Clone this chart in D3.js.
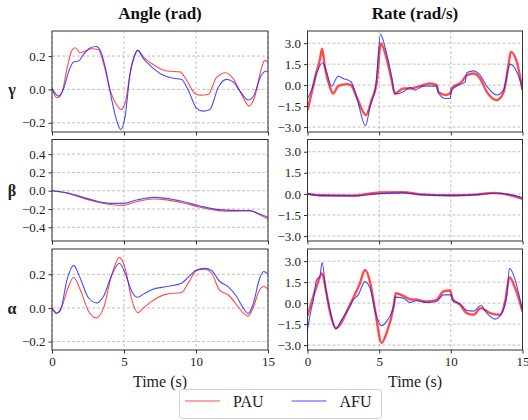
<!DOCTYPE html>
<html>
<head>
<meta charset="utf-8">
<script src="https://cdn.jsdelivr.net/npm/d3@7"></script>
<style>
  body { margin: 0; background: #fff; }
</style>
</head>
<body>
<div id="chart"></div>
<script>
// ---- data: [time (s), value] ----
const angGammaPAU = [[0,0.005],[0.35,-0.05],[0.7,-0.015],[1.04,0.125],[1.38,0.234],[1.6,0.25],[1.96,0.22],[2.3,0.23],[2.77,0.244],[3.23,0.238],[3.58,0.155],[4.04,-0.004],[4.5,-0.093],[4.78,-0.12],[5.08,-0.083],[5.42,0.095],[5.7,0.194],[5.95,0.234],[6.35,0.194],[6.92,0.155],[7.5,0.125],[7.96,0.11],[8.89,0.105],[9.35,0.055],[9.92,-0.024],[10.27,-0.034],[10.85,-0.03],[11.42,0.071],[12.07,0.1],[12.58,0.065],[13.15,-0.028],[13.69,-0.1],[14.08,-0.044],[14.54,0.125],[14.77,0.174],[15,0.164]];
const angGammaAFU = [[0,0.005],[0.46,-0.04],[0.81,0.006],[1.15,0.105],[1.5,0.164],[1.85,0.17],[2.19,0.21],[2.65,0.248],[3.07,0.257],[3.35,0.234],[3.69,0.135],[4.15,-0.063],[4.5,-0.19],[4.78,-0.24],[5.08,-0.16],[5.42,0.095],[5.7,0.194],[5.95,0.234],[6.35,0.184],[6.92,0.135],[7.5,0.095],[8.19,0.071],[9,0.06],[9.46,-0.004],[10.04,-0.113],[10.5,-0.13],[10.96,-0.12],[11.54,0.012],[12.12,0.06],[12.58,0.045],[13.04,-0.008],[13.62,-0.063],[13.96,-0.044],[14.54,0.085],[14.89,0.11],[15,0.105]];
const angBetaPAU = [[0,0],[1.04,-0.027],[2.42,-0.095],[4.04,-0.15],[4.96,-0.16],[5.88,-0.12],[7.04,-0.09],[7.96,-0.1],[9.12,-0.135],[10.27,-0.18],[11.42,-0.215],[12.58,-0.225],[13.73,-0.22],[14.42,-0.262],[15,-0.31]];
const angBetaAFU = [[0,0],[1.04,-0.022],[2.42,-0.084],[4.04,-0.138],[4.96,-0.138],[5.88,-0.102],[7.04,-0.073],[7.96,-0.084],[9.12,-0.12],[10.27,-0.167],[11.42,-0.204],[12.58,-0.215],[13.73,-0.218],[14.42,-0.255],[15,-0.29]];
const angAlphaPAU = [[0,0],[0.35,-0.03],[0.69,0.01],[1.15,0.127],[1.5,0.182],[1.96,0.108],[2.54,-0.02],[3.07,-0.059],[3.58,0],[4.15,0.196],[4.68,0.3],[5.08,0.235],[5.54,0.049],[5.95,-0.029],[6.35,0],[6.92,0.039],[7.96,0.082],[9,0.092],[9.46,0.147],[10.04,0.222],[10.62,0.23],[11.08,0.206],[11.65,0.104],[12.23,0.078],[12.81,0.02],[13.27,-0.029],[13.62,-0.049],[13.96,0],[14.42,0.108],[14.7,0.127],[15,0.112]];
const angAlphaAFU = [[0,0],[0.3,-0.033],[0.58,-0.016],[1.04,0.167],[1.5,0.253],[1.96,0.176],[2.54,0.059],[3.12,0.03],[3.58,0.069],[4.15,0.196],[4.68,0.265],[5.08,0.206],[5.54,0.098],[5.95,0.063],[6.35,0.082],[6.92,0.108],[7.96,0.127],[9,0.147],[9.46,0.182],[10.04,0.225],[10.62,0.235],[11.08,0.222],[11.65,0.157],[12.23,0.127],[12.81,0.069],[13.27,0],[13.62,-0.033],[13.96,0.02],[14.42,0.176],[14.7,0.216],[15,0.2]];

const rateGammaPAU = [[0,-1.8],[0.28,-0.6],[0.63,0.95],[0.86,1.79],[1.02,2.6],[1.21,1.3],[1.56,-0.12],[1.79,-0.6],[2.14,-0.07],[2.73,0.07],[3.03,0],[3.42,-0.83],[4.08,-2.14],[4.47,-1.07],[4.82,0.12],[5.12,2.98],[5.52,1.9],[5.87,0.36],[6.1,-0.6],[6.69,-0.24],[7.15,-0.24],[7.85,-0.07],[8.55,0.12],[9.01,0],[9.13,-0.48],[9.6,-0.71],[9.95,-0.6],[10.06,-0.24],[10.76,0.24],[11.11,0.71],[11.58,0.83],[12.04,0.48],[12.51,-0.48],[13.21,-1.07],[13.67,-0.55],[14.02,1.43],[14.18,2.38],[14.6,1.67],[15,-0.36]];
const rateGammaAFU = [[0,-0.95],[0.28,-0.36],[0.63,0.83],[1.05,1.6],[1.33,0.95],[1.68,-0.07],[2.14,0.64],[2.49,0.48],[3.03,0.24],[3.42,-0.83],[4.05,-2.9],[4.36,-1.55],[4.78,0.12],[5.1,3.64],[5.4,2.74],[5.87,0.6],[6.1,-0.64],[6.69,-0.48],[7.15,-0.17],[7.5,-0.36],[8.08,-0.07],[9.01,-0.07],[9.13,-0.55],[9.6,-0.95],[9.95,-0.95],[10.06,-0.36],[10.41,-0.07],[11,0.24],[11.11,0.88],[11.58,1.02],[12.04,0.71],[12.51,-0.07],[13.21,-0.71],[13.67,-0.36],[14.14,1.5],[14.6,0.95],[15,-0.24]];
const rateBetaPAU = [[0,0],[0.86,-0.1],[3.19,-0.12],[5.05,0.1],[6.69,0.12],[7.85,-0.03],[10.06,-0.1],[11.81,-0.05],[12.97,0.07],[14.14,-0.1],[15,-0.35]];
const rateBetaAFU = [[0,0],[0.86,-0.12],[3.19,-0.14],[5.05,0.02],[6.69,0.07],[7.85,-0.05],[10.06,-0.12],[11.81,-0.05],[12.97,0.05],[14.14,-0.05],[15,-0.26]];
const rateAlphaPAU = [[0,-0.9],[0.4,0.47],[0.63,1.18],[1.02,2.13],[1.28,0.95],[1.56,-0.59],[1.98,-1.78],[2.96,-0.12],[3.19,0.36],[3.66,1.42],[4.01,2.37],[4.36,1.54],[4.71,-0.47],[5.17,-2.84],[5.52,-2.13],[6.03,-0.12],[6.15,0.71],[6.69,0.52],[7.15,0.28],[7.62,0.24],[8.32,0.12],[9.01,0.24],[9.48,0.83],[9.95,0.9],[10.13,0.28],[10.65,-0.12],[11.11,-0.71],[11.58,-0.83],[12.09,-0.36],[12.74,-0.71],[13.44,-0.83],[13.79,0.12],[14.09,1.85],[14.49,1.07],[15,-0.59]];
const rateAlphaAFU = [[0,-1.9],[0.16,-0.95],[0.4,0.24],[0.63,1.66],[0.86,1.9],[1.02,2.9],[1.28,0.95],[1.56,-0.47],[1.98,-1.85],[2.38,-1.18],[2.96,-0.24],[3.19,0.24],[3.54,0.59],[4.01,1.54],[4.36,1.07],[4.82,-0.95],[5.17,-1.61],[5.52,-1.3],[6.03,-0.12],[6.1,0.43],[6.69,0.36],[7.15,0.05],[7.62,0.17],[8.32,0.05],[9.01,0.12],[9.48,0.59],[10.02,0.59],[10.13,0.17],[10.65,-0.05],[11.11,-0.52],[11.58,-0.57],[12.09,-0.17],[12.51,-0.71],[13.09,-1.14],[13.56,-0.71],[13.91,0.59],[14.09,2.49],[14.49,1.66],[15,-0.59]];

const rowLabels = ["γ", "β", "α"];
const colTitles = ["Angle (rad)", "Rate (rad/s)"];
const seriesNames = ["PAU", "AFU"];
const xTicks = [0, 5, 10, 15];
const angleTicks = [-0.2, 0.0, 0.2];
const betaTicks = [-0.4, -0.2, 0.0, 0.2, 0.4];
const rateTicks = [-3.0, -1.5, 0.0, 1.5, 3.0];

const colors = { PAU: "rgba(255,30,30,0.8)", AFU: "rgba(30,30,255,0.8)" };
const serif = "Liberation Serif, Times New Roman, serif";

const W = 528, H = 420;
const colX = [[52, 268], [307.5, 522.5]];
const rowY = [[31, 132], [139.5, 241], [249, 350]];

const svg = d3.select("#chart").append("svg")
  .attr("width", W).attr("height", H)
  .style("font-family", serif);

const panels = [
  { r: 0, c: 0, dom: [-0.255, 0.35], ticks: angleTicks, pau: angGammaPAU, afu: angGammaAFU },
  { r: 1, c: 0, dom: [-0.55, 0.56], ticks: betaTicks, pau: angBetaPAU, afu: angBetaAFU },
  { r: 2, c: 0, dom: [-0.25, 0.35], ticks: angleTicks, pau: angAlphaPAU, afu: angAlphaAFU },
  { r: 0, c: 1, dom: [-3.35, 3.87], ticks: rateTicks, pau: rateGammaPAU, afu: rateGammaAFU },
  { r: 1, c: 1, dom: [-3.35, 3.87], ticks: rateTicks, pau: rateBetaPAU, afu: rateBetaAFU },
  { r: 2, c: 1, dom: [-3.35, 3.87], ticks: rateTicks, pau: rateAlphaPAU, afu: rateAlphaAFU },
];

panels.forEach((p) => {
  const [x0, x1] = colX[p.c];
  const [y0, y1] = rowY[p.r];
  const x = d3.scaleLinear().domain([0, 15]).range([x0, x1]);
  const y = d3.scaleLinear().domain(p.dom).range([y1, y0]);
  const g = svg.append("g");

  // grid
  g.selectAll(".gx").data(xTicks).enter().append("line")
    .attr("x1", (d) => x(d)).attr("x2", (d) => x(d))
    .attr("y1", y0).attr("y2", y1)
    .attr("stroke", "#b0b0b0").attr("stroke-width", 0.8).attr("stroke-dasharray", "3,2");
  g.selectAll(".gy").data(p.ticks).enter().append("line")
    .attr("x1", x0).attr("x2", x1)
    .attr("y1", (d) => y(d)).attr("y2", (d) => y(d))
    .attr("stroke", "#b0b0b0").attr("stroke-width", 0.8).attr("stroke-dasharray", "3,2");

  // lines
  const clipId = `clip${p.r}${p.c}`;
  g.append("clipPath").attr("id", clipId).append("rect")
    .attr("x", x0).attr("y", y0).attr("width", x1 - x0).attr("height", y1 - y0);
  const line = d3.line()
    .x((d) => x(d[0])).y((d) => y(d[1]))
    .curve(d3.curveMonotoneX);
  g.append("path").datum(p.pau)
    .attr("clip-path", `url(#${clipId})`)
    .attr("fill", "none").attr("stroke", colors.PAU)
    .attr("stroke-width", p.c === 0 ? 1.1 : 2.4)
    .attr("d", line);
  g.append("path").datum(p.afu)
    .attr("clip-path", `url(#${clipId})`)
    .attr("fill", "none").attr("stroke", colors.AFU)
    .attr("stroke-width", 1.1)
    .attr("d", line);

  // axes
  const yAxis = g.append("g").attr("transform", `translate(${x0},0)`)
    .call(d3.axisLeft(y).tickValues(p.ticks).tickSize(3.5).tickPadding(3).tickFormat(d3.format(".1f")));
  yAxis.select(".domain").remove();

  const xAxis = g.append("g").attr("transform", `translate(0,${y1})`)
    .call(d3.axisBottom(x).tickValues(xTicks).tickSize(3.5).tickPadding(3).tickFormat(p.r === 2 ? d3.format("d") : ""));
  xAxis.select(".domain").remove();

  g.selectAll(".tick text")
    .style("font-family", serif).style("font-size", "13px").attr("fill", "#222");
  g.selectAll(".tick line").attr("stroke", "#333");

  g.append("rect")
    .attr("x", x0).attr("y", y0).attr("width", x1 - x0).attr("height", y1 - y0)
    .attr("fill", "none").attr("stroke", "#333").attr("stroke-width", 1);

  if (p.c === 0) {
    g.append("text")
      .attr("x", 12).attr("y", y(0)).attr("dy", "0.35em")
      .attr("text-anchor", "middle")
      .attr("fill", "#222")
      .style("font-family", serif)
      .style("font-size", "16px").style("font-weight", "bold")
      .text(rowLabels[p.r]);
  }
  if (p.r === 0) {
    g.append("text")
      .attr("x", (x0 + x1) / 2).attr("y", 19)
      .attr("text-anchor", "middle")
      .attr("fill", "#111")
      .style("font-size", "17px").style("font-weight", "bold")
      .text(colTitles[p.c]);
  }
  if (p.r === 2) {
    g.append("text")
      .attr("x", (x0 + x1) / 2).attr("y", 387)
      .attr("text-anchor", "middle")
      .attr("fill", "#222")
      .style("font-size", "16px")
      .text("Time (s)");
  }
});

// legend
const legend = svg.append("g");
legend.append("rect")
  .attr("x", 179.5).attr("y", 389.5).attr("width", 202).attr("height", 29).attr("rx", 3)
  .attr("fill", "#fff").attr("stroke", "#d0d0d0");
seriesNames.forEach((name, i) => {
  const lx = 185 + i * 106.5;
  legend.append("line")
    .attr("x1", lx).attr("x2", lx + 35).attr("y1", 401).attr("y2", 401)
    .attr("stroke", colors[name]).attr("stroke-width", 1.1);
  legend.append("text")
    .attr("x", lx + 48).attr("y", 407)
    .attr("fill", "#222")
    .style("font-size", "16px")
    .text(name);
});
</script>
</body>
</html>
